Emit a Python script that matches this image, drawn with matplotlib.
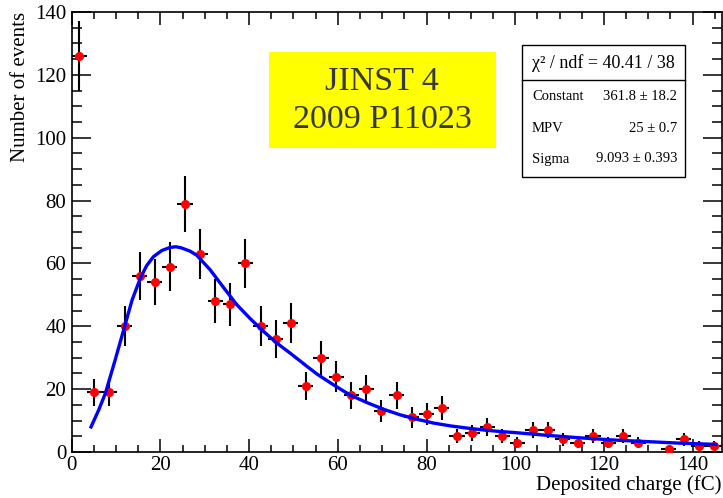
import numpy as np
import matplotlib
matplotlib.use('Agg')
import matplotlib.pyplot as plt
from matplotlib.patches import Rectangle
from matplotlib.ticker import MultipleLocator

plt.rcParams['font.family'] = ['Liberation Serif', 'DejaVu Serif']

# histogram: 43 bins over the deposited charge axis
x_min, x_max, n_bins = 0.0, 146.5, 43
counts = [126, 19, 19, 40, 56, 54, 59, 79, 63, 48, 47, 60, 40, 36, 41, 21,
          30, 24, 18, 20, 13, 18, 11, 12, 14, 5, 6, 8, 5, 3, 7, 7, 4, 3, 5,
          3, 5, 3, 0, 1, 4, 2, 2]

# Landau fit curve
fit_x = [4.2, 6.1, 7.6, 9.8, 11.7, 13.6, 15.5, 16.9, 18.4, 20.3, 22.2, 23.5,
         24.6, 26.7, 28.2, 31.2, 34.2, 37.2, 40.2, 43.3, 46.3, 49.3, 53.0,
         55.3, 59.1, 62.8, 66.6, 70.3, 74.1, 77.9, 81.6, 85.4, 89.2, 92.9,
         96.7, 99.7, 107.2, 114.7, 122.3, 129.8, 137.3, 145.6]
fit_y = [7.5, 13.4, 18.7, 29.3, 38.8, 48.3, 55.4, 59.3, 62.1, 64.1, 65.1, 65.3,
         65.0, 63.9, 62.6, 58.0, 52.4, 46.9, 42.5, 38.3, 34.6, 31.4, 27.3,
         24.8, 21.3, 18.1, 15.7, 13.6, 11.8, 10.4, 9.2, 8.3, 7.6, 7.0,
         6.5, 6.2, 5.3, 4.5, 3.8, 3.3, 2.8, 2.4]

stats_title = 'χ² / ndf = 40.41 / 38'
stats_rows = [('Constant', '361.8 ± 18.2'),
              ('MPV', '25 ± 0.7'),
              ('Sigma', '9.093 ± 0.393')]
ref_lines = ['JINST 4', '2009 P11023']

W, H = 723, 498
fig = plt.figure(figsize=(W / 100, H / 100), dpi=100)

def fx(x):
    return x / W

def fy(y):
    return 1 - y / H

ax = fig.add_axes([fx(71.7), fy(452), fx(721.5) - fx(71.7), fy(12) - fy(452)])

edges = np.linspace(x_min, x_max, n_bins + 1)
centers = 0.5 * (edges[:-1] + edges[1:])
width = edges[1] - edges[0]
cnt = np.array(counts, dtype=float)
m = cnt > 0

ax.errorbar(centers[m], cnt[m], yerr=np.sqrt(cnt[m]), xerr=width / 2,
            fmt='none', ecolor='black', elinewidth=1.5, capsize=0, zorder=2)
ax.plot(centers[m], cnt[m], 'o', color='red', ms=5.5, mec='red', zorder=3)
ax.plot(fit_x, fit_y, '-', color='#0000ff', lw=2.4, zorder=4,
        solid_capstyle='butt', solid_joinstyle='round')

ax.set_xlim(x_min, x_max)
ax.set_ylim(0, 140)
ax.xaxis.set_major_locator(MultipleLocator(20))
ax.xaxis.set_minor_locator(MultipleLocator(5))
ax.yaxis.set_major_locator(MultipleLocator(20))
ax.yaxis.set_minor_locator(MultipleLocator(5))
for s in ax.spines.values():
    s.set_linewidth(1.2)
ax.tick_params(axis='both', which='both', direction='in', top=True, right=True,
               width=1.1, labelsize=15)
ax.tick_params(axis='x', which='major', length=9.4, pad=3)
ax.tick_params(axis='x', which='minor', length=5)
ax.tick_params(axis='y', which='major', length=13.7, pad=4)
ax.tick_params(axis='y', which='minor', length=7.2)

fig.text(fx(721), fy(490), 'Deposited charge (fC)', ha='right', va='baseline',
         fontsize=15)
fig.text(fx(21), fy(12), 'Number of events', ha='center', va='top',
         rotation=90, fontsize=15)

# reference label
fig.patches.append(Rectangle((fx(269.3), fy(147.7)), fx(496) - fx(269.3),
                             fy(52.3) - fy(147.7), transform=fig.transFigure,
                             facecolor='#ffff00', edgecolor='none', zorder=5))
fig.text(fx(382), fy(82), ref_lines[0], ha='center', va='center',
         fontsize=24.5, color='#383838', zorder=6)
fig.text(fx(382), fy(120), ref_lines[1], ha='center', va='center',
         fontsize=24.5, color='#383838', zorder=6)

# stats box
fig.patches.append(Rectangle((fx(521.5), fy(177)), fx(685) - fx(521.5),
                             fy(45) - fy(177), transform=fig.transFigure,
                             facecolor='white', edgecolor='black', lw=1.0,
                             zorder=5))
fig.lines.append(plt.Line2D([fx(521.5), fx(685)], [fy(80), fy(80)],
                            transform=fig.transFigure, color='black', lw=1.0,
                            zorder=6))
fig.text(fx(603), fy(63), stats_title, ha='center', va='center', fontsize=13,
         zorder=7)
for i, (name, val) in enumerate(stats_rows):
    yy = [96, 128, 159][i]
    fig.text(fx(532), fy(yy), name, ha='left', va='center', fontsize=10.5,
             zorder=7)
    fig.text(fx(677), fy(yy), val, ha='right', va='center', fontsize=10.5,
             zorder=7)

fig.savefig('out.png', dpi=100)
